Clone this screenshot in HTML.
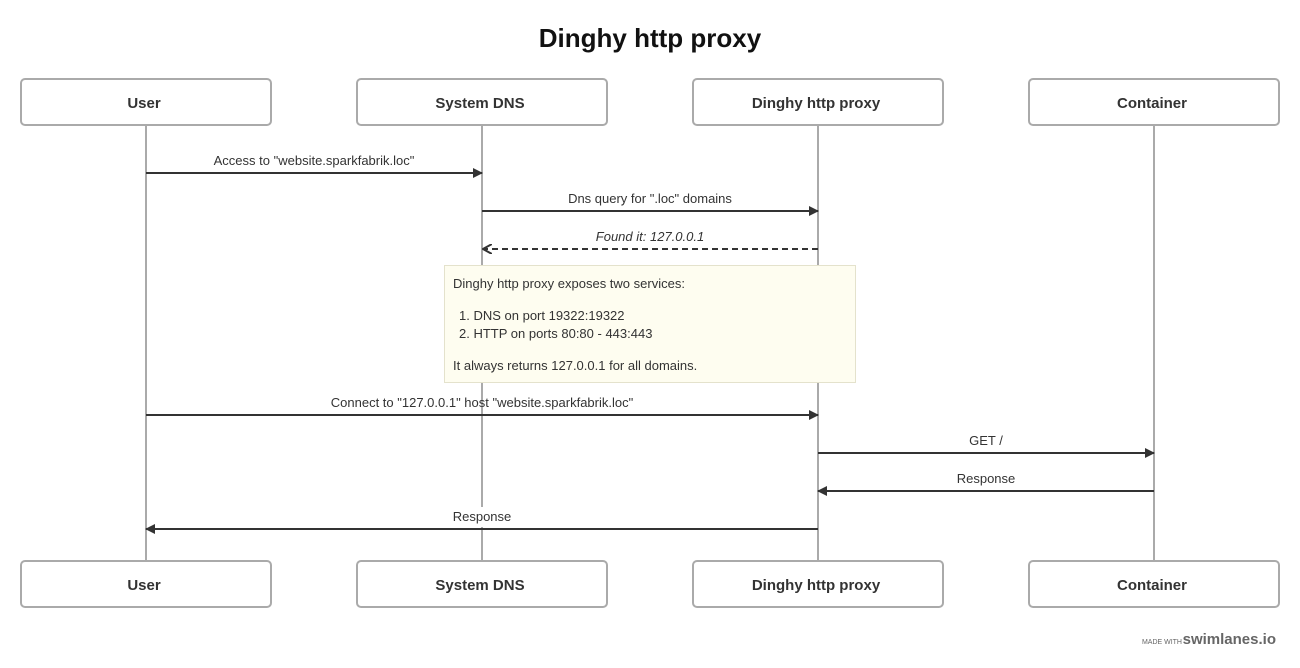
<!DOCTYPE html>
<html><head><meta charset="utf-8"><style>
html,body{margin:0;padding:0;background:#fff;}
svg{display:block;}
text{font-family:"Liberation Sans",sans-serif;fill:#333;}
</style></head><body>
<svg width="1300" height="668" viewBox="0 0 1300 668" xmlns="http://www.w3.org/2000/svg">
<defs>
<marker id="a" markerWidth="10" markerHeight="10" refX="9" refY="5" orient="auto" markerUnits="userSpaceOnUse"><path d="M0,0 L10,5 L0,10 z" fill="#333"/></marker>
<marker id="o" markerWidth="10" markerHeight="10" refX="9" refY="5" orient="auto" markerUnits="userSpaceOnUse"><path d="M0,0 L9,5 L0,10" fill="none" stroke="#333" stroke-width="2"/></marker>
</defs>
<text x="650" y="47" text-anchor="middle" font-size="26" font-weight="bold" style="fill:#111">Dinghy http proxy</text>
<g stroke="#aaa" stroke-width="2">
<line x1="146" y1="125" x2="146" y2="561"/>
<line x1="482" y1="125" x2="482" y2="507"/>
<line x1="482" y1="527" x2="482" y2="561"/>
<line x1="818" y1="125" x2="818" y2="561"/>
<line x1="1154" y1="125" x2="1154" y2="561"/>
</g>
<g fill="#fff" stroke="#aaa" stroke-width="2">
<rect x="21" y="79" width="250" height="46" rx="4"/><rect x="357" y="79" width="250" height="46" rx="4"/><rect x="693" y="79" width="250" height="46" rx="4"/><rect x="1029" y="79" width="250" height="46" rx="4"/>
<rect x="21" y="561" width="250" height="46" rx="4"/><rect x="357" y="561" width="250" height="46" rx="4"/><rect x="693" y="561" width="250" height="46" rx="4"/><rect x="1029" y="561" width="250" height="46" rx="4"/>
</g>
<g font-size="15" font-weight="bold" text-anchor="middle">
<text x="144" y="108">User</text><text x="480" y="108">System DNS</text><text x="816" y="108">Dinghy http proxy</text><text x="1152" y="108">Container</text>
<text x="144" y="590">User</text><text x="480" y="590">System DNS</text><text x="816" y="590">Dinghy http proxy</text><text x="1152" y="590">Container</text>
</g>
<g stroke="#333" stroke-width="2" fill="none">
<line x1="146" y1="173" x2="482" y2="173" marker-end="url(#a)"/>
<line x1="482" y1="211" x2="818" y2="211" marker-end="url(#a)"/>
<line x1="818" y1="249" x2="483" y2="249" stroke-dasharray="6,4" marker-end="url(#o)"/>
<line x1="146" y1="415" x2="818" y2="415" marker-end="url(#a)"/>
<line x1="818" y1="453" x2="1154" y2="453" marker-end="url(#a)"/>
<line x1="1154" y1="491" x2="818" y2="491" marker-end="url(#a)"/>
<line x1="818" y1="529" x2="146" y2="529" marker-end="url(#a)"/>
</g>
<g font-size="13" text-anchor="middle">
<text x="314" y="165">Access to "website.sparkfabrik.loc"</text>
<text x="650" y="203">Dns query for ".loc" domains</text>
<text x="650" y="241" font-style="italic">Found it: 127.0.0.1</text>
<text x="482" y="407">Connect to "127.0.0.1" host "website.sparkfabrik.loc"</text>
<text x="986" y="445">GET /</text>
<text x="986" y="483">Response</text>
<text x="482" y="521">Response</text>
</g>
<rect x="444.5" y="265.5" width="411" height="117" fill="#fefdf0" stroke="#e4e2cc"/>
<g font-size="13">
<text x="453" y="288">Dinghy http proxy exposes two services:</text>
<text x="459" y="320">1. DNS on port 19322:19322</text>
<text x="459" y="338">2. HTTP on ports 80:80 - 443:443</text>
<text x="453" y="370">It always returns 127.0.0.1 for all domains.</text>
</g>
<text x="1182" y="644" font-size="7" text-anchor="end" style="fill:#666">MADE WITH</text>
<text x="1276" y="644" font-size="15" font-weight="bold" text-anchor="end" style="fill:#666">swimlanes.io</text>
</svg>
</body></html>
